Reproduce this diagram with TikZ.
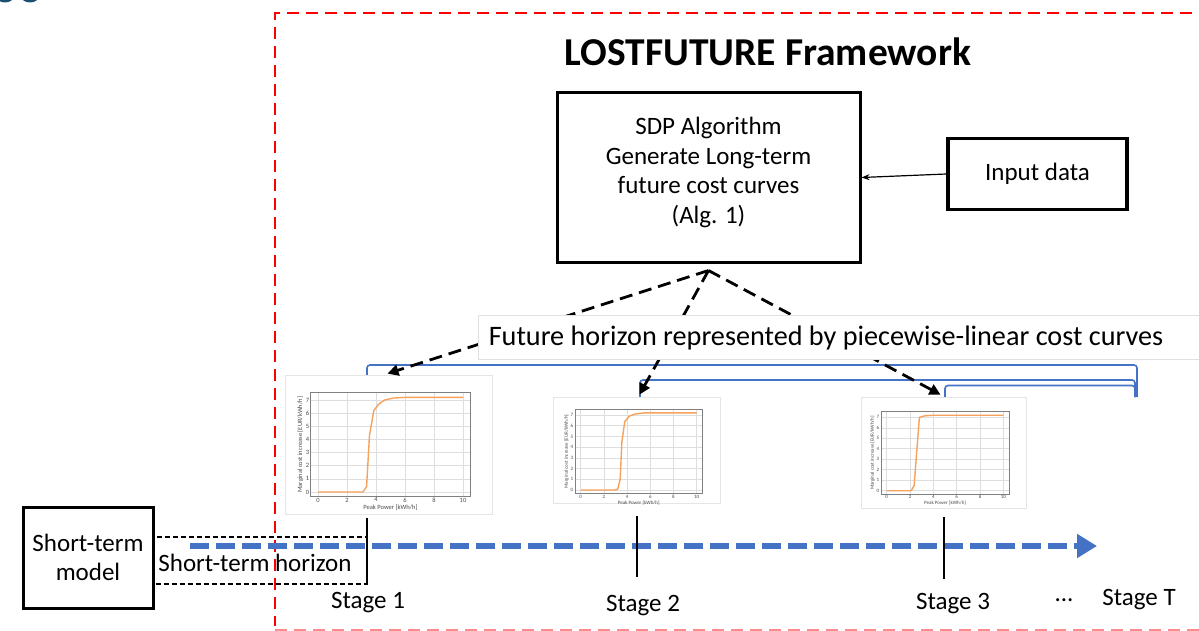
\documentclass[tikz,border=0pt]{standalone}
\usepackage{fontspec}
\setmainfont{Carlito}
\usetikzlibrary{arrows.meta}
\definecolor{tlblue}{RGB}{68,114,196}
\definecolor{curveor}{RGB}{246,162,92}
\definecolor{logoblue}{RGB}{27,79,114}
\newcommand\mainfs{\fontsize{25}{29.7}\selectfont}
% #1 name, #2 ox, #3 oy, #4 sx, #5 sy, #6 font size, #7 curve
\newcommand\minichart[7]{%
  \begin{scope}[shift={(#2,#3)}, x={(#4pt,0pt)}, y={(0pt,#5pt)}]
    \foreach \gx in {0,2,...,10} \draw[chartgrid] (\gx,-0.35) -- (\gx,7.55);
    \foreach \gy in {0,...,7} \draw[chartgrid] (-0.5,\gy) -- (10.5,\gy);
    \draw[chartaxis] (-0.5,-0.35) rectangle (10.5,7.55);
    \draw[curveor, line width=1.4pt, line join=round] plot coordinates {#7};
    \foreach \gx in {0,2,...,10}
      \node[anchor=north, inner sep=1pt, text=black!70, font=\fontsize{#6}{#6}\selectfont] (#1x\gx) at (\gx,-0.35) {\gx};
    \foreach \gy in {0,...,7}
      \node[anchor=east, inner sep=1.5pt, text=black!70, font=\fontsize{#6}{#6}\selectfont] (#1y\gy) at (-0.5,\gy) {\gy};
    \node[text=black!70, inner sep=0pt, font=\fontsize{#6}{#6}\selectfont] (#1xl) at (5,-1.22) {Peak Power [kWh/h]};
    \node[text=black!70, inner sep=0pt, rotate=90, font=\fontsize{#6}{#6}\selectfont] (#1yl) at (-1.22,3.6) {Marginal cost increase [EUR/kWh/h]};
  \end{scope}}
\begin{document}
\begin{tikzpicture}[x=1pt,y=-1pt,
  box/.style={draw, line width=3pt, align=center, inner sep=0pt, font=\mainfs},
  lbl/.style={inner sep=0pt, font=\mainfs},
  chartframe/.style={draw=black!10, fill=white, line width=0.8pt, inner sep=0pt},
  chartgrid/.style={black!13, line width=0.6pt},
  chartaxis/.style={black!50, line width=0.7pt},
  bracket/.style={tlblue, line width=1.6pt, rounded corners=3pt},
  futarrow/.style={line width=2.8pt, dash pattern=on 13pt off 7pt, -{Triangle[length=11pt,width=11pt]}},
  stagetick/.style={line width=2.6pt},
  timeline/.style={tlblue, line width=6pt, dash pattern=on 19pt off 7pt, -{Triangle[length=20pt,width=23pt]}},
  redframe/.style={red, line width=2.6pt, dash pattern=on 12pt off 7pt}
]
\useasboundingbox (0,0) rectangle (1199,631);
\clip (0,0) rectangle (1199,631);
\fill[white] (0,0) rectangle (1199,631);
% cropped logo fragment
\fill[logoblue] (5,-4) ellipse (9 and 6.5);
\fill[logoblue] (30,-4) ellipse (9 and 6.5);
% framework border
\draw[redframe] (1230,13) -- (275,13) -- (275,626);
\draw[red!45, line width=2pt, dash pattern=on 12pt off 7pt] (275,630) -- (1230,630);
% title
\node[inner sep=0pt, font=\fontsize{39.5}{41}\selectfont\bfseries] (title) at (768,52) {LOSTFUTURE Framework};
% SDP box and input
\node[box, minimum width=303, minimum height=169] (sdp) at (708.5,177.5) {};
\node[lbl, align=center] (sdptxt) at (708.5,172.5) {SDP Algorithm\\Generate Long-term\\future cost curves\\(Alg. 1)};
\node[box, line width=3.5pt, minimum width=179, minimum height=71] (inp) at (1037.5,174) {Input data};
\draw[line width=1.2pt, -{Stealth[length=8pt,width=6pt]}] (inp.west) -- (sdp.east);
\coordinate (apex) at ([yshift=-7pt]sdp.south);
% brackets
\coordinate (b1a) at (367,380); \coordinate (b1b) at (367,365); \coordinate (b1c) at (1137,365); \coordinate (b1d) at (1137,397);
\coordinate (b2a) at (640,397); \coordinate (b2b) at (640,380); \coordinate (b2c) at (1135,380); \coordinate (b2d) at (1135,397);
\coordinate (b3a) at (945,397); \coordinate (b3b) at (945,385.5); \coordinate (b3c) at (1135,385.5); \coordinate (b3d) at (1135,397);
\draw[bracket] (b1a) -- (b1b) -- (b1c) -- (b1d);
\draw[bracket] (b2a) -- (b2b) -- (b2c) -- (b2d);
\draw[bracket] (b3a) -- (b3b) -- (b3c) -- (b3d);
% charts
\node[chartframe, minimum width=207, minimum height=139] (chart1) at (388.5,444.5) {};
\minichart{ca}{318}{492}{14.5}{13.14}{6.5}{(0,0) (3.1,0) (3.35,0.4) (3.55,4.3) (3.85,6.2) (4.2,6.7) (4.6,7.0) (5.2,7.15) (6,7.2) (10,7.2)}
\node[chartframe, minimum width=167, minimum height=106] (chart2) at (636.5,450) {};
\minichart{cb}{580.7}{490}{11.6}{10.71}{5}{(0,0) (2.95,0) (3.2,0.1) (3.4,1) (3.55,4.5) (3.8,6.4) (4.2,6.9) (4.7,7.1) (5.5,7.2) (10,7.2)}
\node[chartframe, minimum width=165, minimum height=111] (chart3) at (943.5,452.5) {};
\minichart{cc}{886.7}{490.7}{11.67}{10.48}{5}{(0,0) (2.1,0) (2.35,0.5) (2.8,7.0) (3.3,7.15) (4,7.2) (10,7.2)}
% dashed arrows to the cost curves
\draw[futarrow] (apex) -- ([xshift=-1pt,yshift=1pt]chart1.north);
\draw[futarrow] (apex) -- ([xshift=3pt,yshift=2pt]chart2.north);
\draw[futarrow] (apex) -- ([xshift=-3pt,yshift=2pt]chart3.north);
% future horizon label
\node[draw=black!12, fill=white, line width=0.8pt, minimum width=760, minimum height=44, anchor=west, inner sep=0pt] (futbox) at (478,337) {};
\node[inner sep=0pt, font=\fontsize{28.2}{32}\selectfont] (futtxt) at (826,338) {Future horizon represented by piecewise-linear cost curves};
% short-term part
\node[box, minimum width=130, minimum height=101] (stm) at (88,557.5) {Short-term\\model};
\draw[black, line width=1.2pt, dash pattern=on 5pt off 3pt] (stm.east |- 0,537) rectangle (367,584);
\node[lbl] (sth) at (255,563) {Short-term horizon};
% timeline
\coordinate (tl0) at (190,546); \coordinate (tl1) at (1097,546);
\draw[timeline] (tl0) -- (tl1);
% stage ticks
\coordinate (s1t) at (367,518); \coordinate (s1b) at (367,584);
\coordinate (s2t) at (637,516); \coordinate (s2b) at (637,577);
\coordinate (s3t) at (944,517); \coordinate (s3b) at (944,579);
\draw[stagetick] (s1t) -- (s1b);
\draw[stagetick] (s2t) -- (s2b);
\draw[stagetick] (s3t) -- (s3b);
\node[lbl] (st1) at (368,603) {Stage 1};
\node[lbl] (st2) at (643,606) {Stage 2};
\node[lbl] (st3) at (953,604) {Stage 3};
\node[lbl] (dots) at (1064,600) {...};
\node[lbl] (stT) at (1139,600) {Stage T};
\end{tikzpicture}
\end{document}
